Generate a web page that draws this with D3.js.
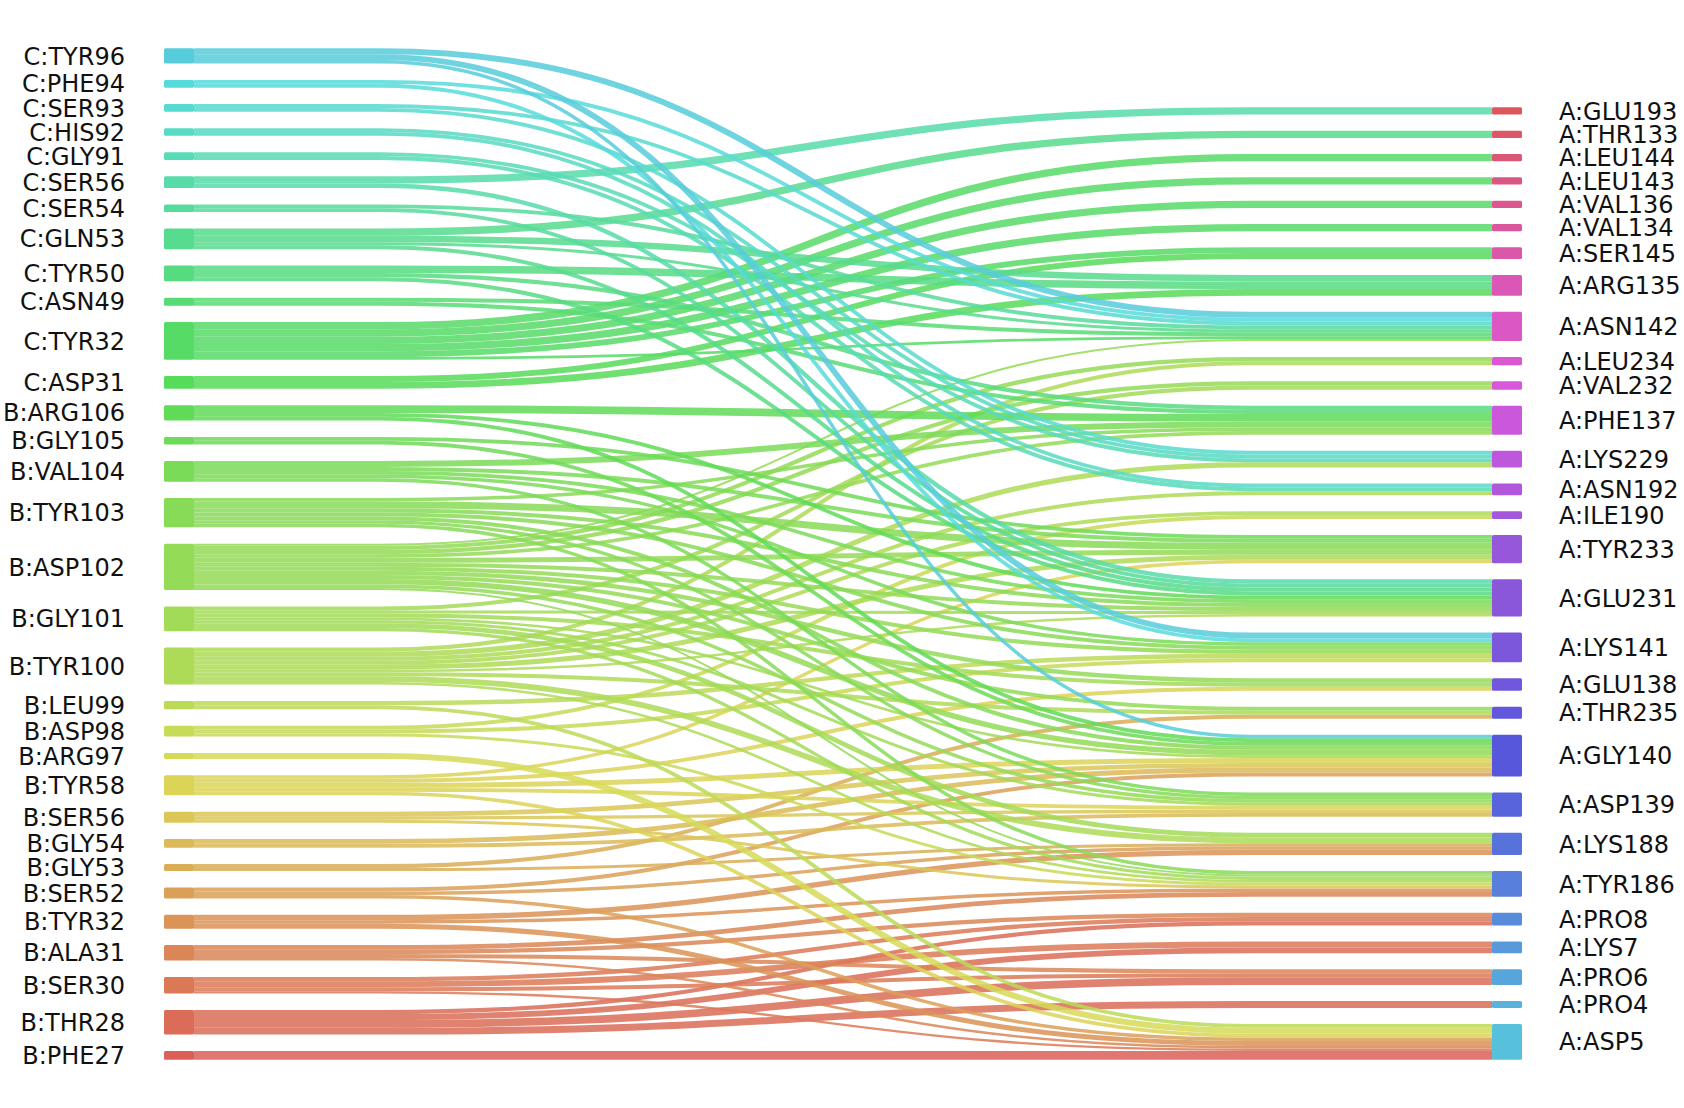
<!DOCTYPE html>
<html><head><meta charset="utf-8">
<script src="https://cdn.jsdelivr.net/npm/d3@7"></script>
<style>body{margin:0;background:#fff}</style>
</head><body>
<svg id="chart" width="1684" height="1108"></svg>
<script>
// ---- DATA ----
const leftNodes = ["C:TYR96","C:PHE94","C:SER93","C:HIS92","C:GLY91","C:SER56","C:SER54","C:GLN53","C:TYR50","C:ASN49","C:TYR32","C:ASP31","B:ARG106","B:GLY105","B:VAL104","B:TYR103","B:ASP102","B:GLY101","B:TYR100","B:LEU99","B:ASP98","B:ARG97","B:TYR58","B:SER56","B:GLY54","B:GLY53","B:SER52","B:TYR32","B:ALA31","B:SER30","B:THR28","B:PHE27"];
const rightNodes = ["A:GLU193","A:THR133","A:LEU144","A:LEU143","A:VAL136","A:VAL134","A:SER145","A:ARG135","A:ASN142","A:LEU234","A:VAL232","A:PHE137","A:LYS229","A:ASN192","A:ILE190","A:TYR233","A:GLU231","A:LYS141","A:GLU138","A:THR235","A:GLY140","A:ASP139","A:LYS188","A:TYR186","A:PRO8","A:LYS7","A:PRO6","A:PRO4","A:ASP5"];
const links = [
 ["C:TYR96","A:ASN142",6],["C:TYR96","A:LYS141",5.8],["C:TYR96","A:GLY140",3.5],
 ["C:PHE94","A:ASN142",3.85],["C:PHE94","A:LYS141",3.85],
 ["C:SER93","A:ASN142",3.85],["C:SER93","A:LYS229",3.85],
 ["C:HIS92","A:LYS229",3.85],["C:HIS92","A:ASN192",3.85],
 ["C:GLY91","A:LYS229",3.85],["C:GLY91","A:ASN192",3.85],
 ["C:SER56","A:GLU193",7.3],["C:SER56","A:GLU231",4.4],
 ["C:SER54","A:ASN142",3.85],["C:SER54","A:GLU231",3.85],
 ["C:GLN53","A:THR133",7.3],["C:GLN53","A:ARG135",6.4],["C:GLN53","A:ASN142",3],["C:GLN53","A:GLU231",4],
 ["C:TYR50","A:ARG135",7.5],["C:TYR50","A:PHE137",4.2],["C:TYR50","A:GLU231",4],
 ["C:ASN49","A:ASN142",4],["C:ASN49","A:PHE137",4],
 ["C:TYR32","A:LEU144",7.3],["C:TYR32","A:LEU143",7.3],["C:TYR32","A:VAL136",7.3],["C:TYR32","A:VAL134",7.3],["C:TYR32","A:SER145",5.8],["C:TYR32","A:ASN142",2.7],
 ["C:ASP31","A:SER145",5.9],["C:ASP31","A:ARG135",6.8],
 ["B:ARG106","A:PHE137",7.7],["B:ARG106","A:GLU231",3.8],["B:ARG106","A:GLY140",3.8],
 ["B:GLY105","A:TYR233",3.85],["B:GLY105","A:GLY140",3.85],
 ["B:VAL104","A:PHE137",6],["B:VAL104","A:TYR233",4],["B:VAL104","A:GLU231",3.7],["B:VAL104","A:LYS141",3.5],["B:VAL104","A:ASP139",3.5],
 ["B:TYR103","A:PHE137",3.5],["B:TYR103","A:TYR233",7],["B:TYR103","A:GLU231",4],["B:TYR103","A:LYS141",4],["B:TYR103","A:GLY140",4],["B:TYR103","A:ASP139",3.3],["B:TYR103","A:TYR186",3.5],
 ["B:ASP102","A:ASN142",2],["B:ASP102","A:PHE137",3.6],["B:ASP102","A:LEU234",4.2],["B:ASP102","A:VAL232",4.2],["B:ASP102","A:TYR233",5],["B:ASP102","A:GLU231",4],["B:ASP102","A:LYS141",4],["B:ASP102","A:GLU138",4.3],["B:ASP102","A:THR235",4],["B:ASP102","A:GLY140",5.5],["B:ASP102","A:ASP139",3.5],["B:ASP102","A:TYR186",2],
 ["B:GLY101","A:VAL232",4.1],["B:GLY101","A:GLU231",3],["B:GLY101","A:GLU138",4],["B:GLY101","A:GLY140",2.6],["B:GLY101","A:ASP139",3],["B:GLY101","A:LYS188",4.75],["B:GLY101","A:TYR186",3.3],
 ["B:TYR100","A:LEU234",4.1],["B:TYR100","A:LYS229",5.15],["B:TYR100","A:ASN192",4],["B:TYR100","A:ILE190",3.85],["B:TYR100","A:TYR233",5],["B:TYR100","A:GLU231",2.55],["B:TYR100","A:THR235",4],["B:TYR100","A:LYS188",5.75],["B:TYR100","A:TYR186",2.65],
 ["B:LEU99","A:LYS141",4.5],["B:LEU99","A:ASP5",3.8],
 ["B:ASP98","A:LYS141",4.05],["B:ASP98","A:ILE190",3.85],["B:ASP98","A:TYR186",3],
 ["B:ARG97","A:ASP5",6],
 ["B:TYR58","A:TYR233",3.45],["B:TYR58","A:GLU138",4],["B:TYR58","A:GLY140",5],["B:TYR58","A:ASP139",3.85],["B:TYR58","A:ASP5",3.7],
 ["B:SER56","A:GLY140",4.6],["B:SER56","A:ASP139",3.3],["B:SER56","A:TYR186",3],
 ["B:GLY54","A:GLY140",4.85],["B:GLY54","A:ASP139",3.85],
 ["B:GLY53","A:THR235",4],["B:GLY53","A:LYS188",3],
 ["B:SER52","A:GLY140",4],["B:SER52","A:LYS188",3.5],["B:SER52","A:ASP5",3.5],
 ["B:TYR32","A:LYS188",5.3],["B:TYR32","A:TYR186",3.5],["B:TYR32","A:ASP5",5],
 ["B:ALA31","A:TYR186",4.75],["B:ALA31","A:PRO8",4.2],["B:ALA31","A:PRO6",4],["B:ALA31","A:ASP5",2.6],
 ["B:SER30","A:PRO8",4.3],["B:SER30","A:LYS7",5.85],["B:SER30","A:PRO6",4],["B:SER30","A:ASP5",2.4],
 ["B:THR28","A:PRO8",4.2],["B:THR28","A:LYS7",5.85],["B:THR28","A:PRO6",7.7],["B:THR28","A:PRO4",6.95],
 ["B:PHE27","A:ASP5",8.7]
];

// ---- LAYOUT ----
const svg = d3.select("#chart");
const nodeW = 30, xL = 164, xR = 1492;
const yTop = 48.3, yBot = 1059.7, yTopR = 107.3;
const nTotal = leftNodes.length + rightNodes.length;
const nodes = new Map();
leftNodes.forEach((n, i) => nodes.set(n, {name: n, side: 0, ci: leftNodes.length - 1 - i, out: [], inn: []}));
rightNodes.forEach((n, i) => nodes.set(n, {name: n, side: 1, ci: nTotal - 1 - i, out: [], inn: []}));
const L = links.map(([s, t, v]) => ({source: nodes.get(s), target: nodes.get(t), value: v}));
L.forEach(l => { l.source.out.push(l); l.target.inn.push(l); });
nodes.forEach(n => n.value = d3.sum(n.side ? n.inn : n.out, d => d.value));
const totalL = d3.sum(leftNodes, n => nodes.get(n).value);
const totalR = d3.sum(rightNodes, n => nodes.get(n).value);
// value -> pixel height
const hScale = d3.scaleLinear().domain([0, totalL]).range([0, totalL * 1.0]);
const padL = (yBot - yTop - hScale(totalL)) / (leftNodes.length - 1);
let y = yTop;
leftNodes.forEach(n => { const d = nodes.get(n); d.y0 = y; d.y1 = y + hScale(d.value); y = d.y1 + padL; });
const padR = (yBot - yTopR - hScale(totalR)) / (rightNodes.length - 1);
y = yTopR;
rightNodes.forEach(n => { const d = nodes.get(n); d.y0 = y; d.y1 = y + hScale(d.value); y = d.y1 + padR; });
nodes.forEach(n => {
  let c = n.y0;
  n.out.sort((a, b) => a.target.y0 - b.target.y0).forEach(l => { l.w = hScale(l.value); l.ys = c + l.w / 2; c += l.w; });
  c = n.y0;
  n.inn.sort((a, b) => a.source.y0 - b.source.y0).forEach(l => { l.yt = c + hScale(l.value) / 2; c += hScale(l.value); });
});
const color = n => d3.hsl(((n.ci / nTotal) + 0.01) * 360 % 360, 0.65, 0.6).formatHex();

// ---- LINKS ----
const xs = xL + nodeW, xt = xR;
const xa = 380, xb = 1250, xm = (xa + xb) / 2;
const linkOrder = L.slice().sort((a, b) => b.source.y0 - a.source.y0);
svg.append("g").selectAll("path").data(linkOrder).join("path")
  .attr("d", l => `M${xs},${l.ys}L${xa},${l.ys}C${xm},${l.ys} ${xm},${l.yt} ${xb},${l.yt}L${xt},${l.yt}`)
  .attr("fill", "none")
  .attr("stroke", l => color(l.source))
  .attr("stroke-width", l => l.w)
  .attr("stroke-opacity", 0.85);

// ---- NODES ----
const allNodes = [...nodes.values()];
svg.append("g").selectAll("rect").data(allNodes).join("rect")
  .attr("x", d => d.side ? xR : xL)
  .attr("y", d => d.y0)
  .attr("width", nodeW)
  .attr("height", d => d.y1 - d.y0)
  .attr("rx", 1.5)
  .attr("fill", d => color(d));

// ---- LABELS ----
svg.append("g").selectAll("text").data(allNodes).join("text")
  .attr("x", d => d.side ? xR + nodeW + 37 : xL - 39)
  .attr("y", d => (d.y0 + d.y1) / 2)
  .attr("dy", "0.36em")
  .attr("text-anchor", d => d.side ? "start" : "end")
  .attr("font-family", "DejaVu Sans")
  .attr("font-size", 24)
  .attr("fill", "#111")
  .text(d => d.name);
</script>
</body></html>
